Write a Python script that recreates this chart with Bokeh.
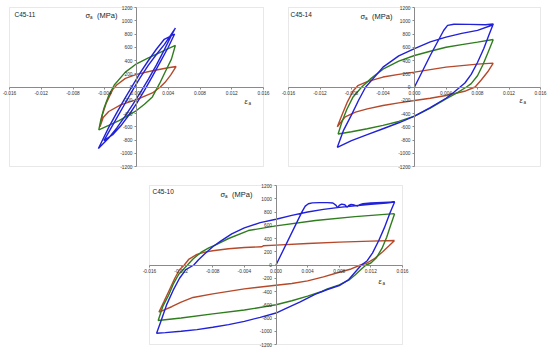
from bokeh.plotting import figure
from bokeh.layouts import column, row
from bokeh.models import FixedTicker, PrintfTickFormatter, Label, Range1d, BoxAnnotation
from bokeh.embed import file_html
from bokeh.resources import INLINE

# ---------------- data ----------------
x_ticks = [-0.016, -0.012, -0.008, -0.004, 0.0, 0.004, 0.008, 0.012, 0.016]
y_ticks = [-1200, -1000, -800, -600, -400, -200, 0, 200, 400, 600, 800, 1000, 1200]
titles = ["C45-11", "C45-14", "C45-10"]

# C45-11 (strain amplitude 0.005)
c11_blue_eps = [0.0049, 0.0044, 0.0035, 0.0025, 0.0015, 0.0005, -0.0005, -0.0015, -0.0025, -0.0035, -0.0048,
                -0.0044, -0.0035, -0.0025, -0.0015, -0.0005, 0.0005, 0.0015, 0.0025, 0.0035, 0.0048,
                0.0040, 0.0030, 0.0020, 0.0010, 0.0, -0.0010, -0.0020, -0.0030, -0.0041,
                -0.0035, -0.0025, -0.0015, -0.0005, 0.0005, 0.0015, 0.0025, 0.0035, 0.0049]
c11_blue_sig = [890, 780, 560, 330, 120, -80, -270, -450, -620, -770, -930,
                -830, -610, -390, -180, 20, 220, 400, 570, 720, 800,
                600, 380, 160, -50, -250, -430, -590, -720, -810,
                -680, -470, -260, -50, 150, 330, 490, 640, 890]
c11_green_eps = [0.0049, 0.0044, 0.0037, 0.0029, 0.0020, 0.0010, 0.0, -0.0022, -0.0035, -0.00475,
                 -0.0045, -0.0041, -0.0035, -0.0028, -0.0014, 0.0, 0.0015, 0.0026, 0.0040, 0.0049]
c11_green_sig = [630, 420, 250, 50, -150, -260, -355, -506, -580, -646,
                 -500, -320, -130, 30, 224, 350, 440, 500, 580, 630]
c11_red_eps = [0.0050, 0.0043, 0.0036, 0.0030, 0.0020, 0.0, -0.0020, -0.0035, -0.0042, -0.0046,
               -0.0043, -0.0038, -0.0030, -0.0025, -0.0014, 0.0, 0.0020, 0.0040, 0.0050]
c11_red_sig = [310, 180, 70, 0, -90, -190, -270, -370, -460, -600,
               -420, -240, -40, 30, 130, 190, 245, 290, 310]

# C45-14 (strain amplitude 0.010)
c14_blue_eps = [0.0, 0.0020, 0.0037, 0.0042, 0.0050, 0.0070, 0.0090, 0.0100,
                0.0095, 0.0088, 0.0080, 0.0072, 0.0064, 0.0058, 0.0050, 0.0040, 0.0020, 0.0, -0.0020, -0.0040,
                -0.0060, -0.0080, -0.0098,
                -0.0090, -0.0080, -0.0071, -0.0062, -0.0050, -0.0040, -0.0020, 0.0, 0.0020, 0.0040, 0.0060,
                0.0080, 0.0100]
c14_blue_sig = [0, 475, 853, 930, 948, 945, 940, 950,
                800, 580, 370, 190, 60, 0, -80, -170, -310, -440, -540, -630,
                -720, -810, -910,
                -650, -420, -200, 0, 160, 300, 470, 580, 680, 752, 810,
                855, 940]
c14_green_eps = [0.0100, 0.0094, 0.0087, 0.0080, 0.0072, 0.0066, 0.0055, 0.0040, 0.0020, 0.0, -0.0020, -0.0040,
                 -0.0060, -0.0080, -0.0097,
                 -0.0092, -0.0086, -0.0078, -0.0067, -0.0055, -0.0040, -0.0020, 0.0, 0.0020, 0.0040, 0.0060,
                 0.0080, 0.0100]
c14_green_sig = [717, 540, 340, 170, 50, 0, -80, -180, -320, -440, -520, -580,
                 -630, -675, -710,
                 -520, -340, -150, 0, 130, 270, 390, 475, 540, 600, 640,
                 677, 717]
c14_red_eps = [0.0100, 0.0093, 0.0085, 0.0077, 0.0065, 0.0040, 0.0020, 0.0, -0.0020, -0.0040, -0.0060,
               -0.0075, -0.0088, -0.0098,
               -0.0092, -0.0085, -0.0078, -0.0072, -0.0060, -0.0040, -0.0020, 0.0, 0.0040, 0.0080, 0.0100]
c14_red_sig = [360, 230, 110, 0, -60, -128, -170, -204, -240, -279, -330,
               -380, -450, -600,
               -420, -220, -60, 20, 80, 150, 190, 224, 300, 345, 360]

# C45-10 (strain amplitude 0.015)
c10_blue_eps = [0.0, 0.0033, 0.0037, 0.0041, 0.0046, 0.0055, 0.0065, 0.0072, 0.0076, 0.0078, 0.0080, 0.0083,
                0.0087, 0.0090, 0.0092, 0.0095, 0.0099, 0.0103, 0.0106, 0.0110, 0.0120, 0.0135, 0.0150,
                0.0144, 0.0137, 0.0130, 0.0122, 0.0115, 0.0108, 0.0100, 0.0092, 0.0080, 0.0065, 0.0050,
                0.0030, 0.0010, 0.0, -0.0020, -0.0040, -0.0060, -0.0080, -0.0100, -0.0120, -0.0140, -0.0151,
                -0.0145, -0.0138, -0.0130, -0.0122, -0.0114, -0.0104, -0.0098, -0.0090, -0.0080, -0.0070,
                -0.0056, -0.0040, -0.0020, 0.0, 0.0020, 0.0040, 0.0060, 0.0080, 0.0100, 0.0120, 0.0140, 0.0150]
c10_blue_sig = [0, 805, 888, 925, 938, 942, 942, 935, 900, 862, 900, 918,
                910, 872, 900, 915, 905, 888, 910, 925, 935, 945, 950,
                780, 560, 370, 180, 60, 0, -110, -220, -310, -370, -440,
                -560, -670, -725, -790, -850, -900, -940, -975, -1000, -1020, -1030,
                -830, -590, -380, -200, -70, 0, 80, 170, 275, 360,
                470, 560, 640, 690, 750, 800, 840, 870, 895, 915, 935, 950]
c10_green_eps = [0.0150, 0.0145, 0.0140, 0.0134, 0.0127, 0.0120, 0.0114, 0.0108, 0.0100, 0.0092, 0.0080,
                 0.0065, 0.0058, 0.0040, 0.0020, 0.0, -0.0040, -0.0080, -0.0120, -0.0149,
                 -0.0143, -0.0136, -0.0130, -0.0123, -0.0112, -0.0105, -0.0095, -0.0085, -0.0075, -0.0060,
                 -0.0035, 0.0, 0.0050, 0.0100, 0.0150]
c10_green_sig = [775, 600, 420, 250, 110, 30, 0, -60, -150, -230, -300,
                 -360, -400, -470, -540, -600, -680, -737, -800, -838,
                 -620, -460, -290, -140, 0, 90, 190, 260, 310, 400,
                 520, 590, 672, 730, 775]
c10_red_eps = [0.0150, 0.0143, 0.0135, 0.0125, 0.0115, 0.0107, 0.0095, 0.0080, 0.0060, 0.0040, 0.0020,
               0.0, -0.0040, -0.0080, -0.0105, -0.0120, -0.0132, -0.0142, -0.0148,
               -0.0142, -0.0135, -0.0128, -0.0122, -0.0116, -0.0110, -0.0100, -0.0090, -0.0080, -0.0060,
               -0.0040, -0.0018, -0.0016, 0.0, 0.0040, 0.0080, 0.0120, 0.0150]
c10_red_sig = [370, 290, 200, 100, 30, 0, -60, -110, -180, -240, -280,
               -305, -360, -435, -490, -560, -630, -680, -712,
               -560, -380, -200, -70, 0, 90, 160, 195, 215, 245,
               265, 275, 290, 300, 325, 345, 360, 370]

BLUE = "#2121d9"
GREEN = "#2f7d1e"
RED = "#b5492a"
FONT = "Liberation Sans"
X_LO, X_HI = -0.016, 0.016
Y_LO, Y_HI = -1200, 1200
PAD_X, PAD_Y = 7, 6   # px of room outside the chart box for edge tick labels


def make_panel(title, series, w, h, borders, title_pos, sig_pos, eps_pos):
    inner_w = w - borders[0] - borders[1] - 2 * PAD_X
    inner_h = h - borders[2] - borders[3] - 2 * PAD_Y
    dx = (X_HI - X_LO) * PAD_X / inner_w
    dy = (Y_HI - Y_LO) * PAD_Y / inner_h
    p = figure(width=w, height=h, x_range=Range1d(X_LO - dx, X_HI + dx), y_range=Range1d(Y_LO - dy, Y_HI + dy),
               output_backend="svg", toolbar_location=None,
               min_border_left=borders[0], min_border_right=borders[1],
               min_border_top=borders[2], min_border_bottom=borders[3])
    p.grid.visible = False
    p.outline_line_color = None
    p.background_fill_color = "white"
    p.border_fill_color = "white"
    p.add_layout(BoxAnnotation(left=X_LO, right=X_HI, bottom=Y_LO, top=Y_HI, fill_alpha=0,
                               line_color="#b4b4b4", line_width=1, level="underlay"))
    for ax in (p.xaxis, p.yaxis):
        ax.fixed_location = 0
        ax.axis_line_color = "#8a8a8a"
        ax.major_tick_line_color = "#8a8a8a"
        ax.major_tick_in = 0
        ax.major_tick_out = 2
        ax.minor_tick_line_color = None
        ax.major_label_text_font = FONT
        ax.major_label_text_font_size = "4.8px"
        ax.major_label_text_color = "#333333"
        ax.major_label_standoff = 2
    p.xaxis.bounds = (X_LO, X_HI)
    p.yaxis.bounds = (Y_LO, Y_HI)
    p.xaxis.ticker = FixedTicker(ticks=x_ticks)
    p.xaxis.formatter = PrintfTickFormatter(format="%.3f")
    p.yaxis.ticker = FixedTicker(ticks=y_ticks)
    p.yaxis.formatter = PrintfTickFormatter(format="%d")

    for eps, sig, col in series:
        p.line(eps, sig, line_color=col, line_width=1.4)

    p.add_layout(Label(x=title_pos[0], y=title_pos[1], text=title, text_font=FONT,
                       text_font_size="6.5px", text_color="#222222", text_baseline="middle"))
    p.add_layout(Label(x=sig_pos[0], y=sig_pos[1], text="σ", text_font=FONT,
                       text_font_size="7.5px", text_color="#222222", text_baseline="middle"))
    p.add_layout(Label(x=sig_pos[0], y=sig_pos[1], x_offset=4.5, y_offset=-2, text="a", text_font=FONT,
                       text_font_size="4.5px", text_color="#222222", text_baseline="middle"))
    p.add_layout(Label(x=sig_pos[0], y=sig_pos[1], x_offset=11.5, text="(MPa)", text_font=FONT,
                       text_font_size="7.5px", text_color="#222222", text_baseline="middle"))
    p.add_layout(Label(x=eps_pos[0], y=eps_pos[1], text="ε", text_font=FONT, text_font_style="italic",
                       text_font_size="7.5px", text_color="#222222", text_baseline="middle"))
    p.add_layout(Label(x=eps_pos[0], y=eps_pos[1], x_offset=4, y_offset=-2, text="a", text_font=FONT,
                       text_font_size="4.5px", text_color="#222222", text_baseline="middle"))
    return p


p1 = make_panel(titles[0],
                [(c11_red_eps, c11_red_sig, RED), (c11_green_eps, c11_green_sig, GREEN),
                 (c11_blue_eps, c11_blue_sig, BLUE)],
                275, 176, (2, 5, 1, 4),
                (-0.01537, 1094), (-0.00643, 1079), (0.01361, -226))
p2 = make_panel(titles[1],
                [(c14_red_eps, c14_red_sig, RED), (c14_green_eps, c14_green_sig, GREEN),
                 (c14_blue_eps, c14_blue_sig, BLUE)],
                275, 176, (6, 3, 1, 4),
                (-0.01575, 1087), (-0.00686, 1057), (0.01333, -204))
p3 = make_panel(titles[2],
                [(c10_red_eps, c10_red_sig, RED), (c10_green_eps, c10_green_sig, GREEN),
                 (c10_blue_eps, c10_blue_sig, BLUE)],
                280, 175, (7, 6, 3, 1),
                (-0.01562, 1109), (-0.00702, 1057), (0.01296, -256))
p3.margin = (0, 0, 0, 135)

layout = column(row(p1, p2, spacing=0), p3, spacing=0)

open("out.html", "w").write(file_html(layout, INLINE))
